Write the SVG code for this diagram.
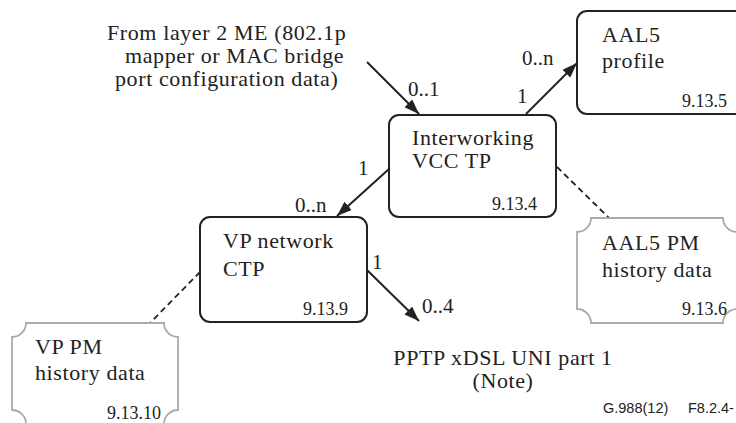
<svg xmlns="http://www.w3.org/2000/svg" width="736" height="423" viewBox="0 0 736 423">
<defs>
<style>
.box{fill:#fff;stroke:#222;stroke-width:2}
.pm{fill:#fff;stroke:#aaa;stroke-width:1.8}
.t{font-family:"Liberation Serif","Times New Roman",serif;font-size:22px;letter-spacing:0.6px;fill:#222}
.n{font-family:"Liberation Serif","Times New Roman",serif;font-size:18px;fill:#222;text-anchor:end}
.c{font-family:"Liberation Serif","Times New Roman",serif;font-size:21px;fill:#222}
.f{font-family:"Liberation Sans",Arial,sans-serif;font-size:14.5px;fill:#222}
.arr{stroke:#222;stroke-width:2;fill:none;marker-end:url(#ah)}
.dash{stroke:#222;stroke-width:1.8;fill:none;stroke-dasharray:6 4}
</style>
<marker id="ah" markerUnits="userSpaceOnUse" markerWidth="16" markerHeight="12" refX="15" refY="5.5" orient="auto">
<path d="M0,0 L15,5.5 L0,11 Z" fill="#222"/>
</marker>
</defs>

<g id="connectors">
<line class="arr" x1="367" y1="62" x2="419" y2="114"/>
<line class="arr" x1="526" y1="114" x2="577" y2="63"/>
<line class="arr" x1="389" y1="169" x2="337" y2="216"/>
<line class="arr" x1="367" y1="270" x2="419" y2="321"/>
<line class="dash" x1="557" y1="167" x2="609" y2="218"/>
<line class="dash" x1="200" y1="272" x2="150" y2="323"/>
<text class="c" x="408" y="96">0..1</text>
<text class="c" x="522" y="65">0..n</text>
<text class="c" x="517" y="103">1</text>
<text class="c" x="358" y="175">1</text>
<text class="c" x="295" y="212">0..n</text>
<text class="c" x="372" y="269">1</text>
<text class="c" x="422" y="313">0..4</text>
</g>

<g id="source">
<text class="t" x="107" y="40">From layer 2 ME (802.1p</text>
<text class="t" x="125" y="63">mapper or MAC bridge</text>
<text class="t" x="115" y="86">port configuration data)</text>
</g>

<g id="aal5-profile">
<rect class="box" x="577" y="11" width="175" height="103" rx="10"/>
<text class="t" x="602" y="42">AAL5</text>
<text class="t" x="602" y="68">profile</text>
<text class="n" x="727" y="107">9.13.5</text>
</g>

<g id="interworking-vcc-tp">
<rect class="box" x="389" y="115" width="167" height="102" rx="10"/>
<text class="t" x="412" y="145">Interworking</text>
<text class="t" x="412" y="168">VCC TP</text>
<text class="n" x="537" y="210">9.13.4</text>
</g>

<g id="aal5-pm">
<path class="pm" d="M591,218 H723 A14,14 0 0 0 737,232 V309 A14,14 0 0 0 723,323 H591 A14,14 0 0 0 577,309 V232 A14,14 0 0 0 591,218 Z"/>
<text class="t" x="602" y="250">AAL5 PM</text>
<text class="t" x="602" y="277">history data</text>
<text class="n" x="727" y="315">9.13.6</text>
</g>

<g id="vp-network-ctp">
<rect class="box" x="200" y="217" width="167" height="105" rx="10"/>
<text class="t" x="223" y="248">VP network</text>
<text class="t" x="223" y="276">CTP</text>
<text class="n" x="348" y="315">9.13.9</text>
</g>

<g id="vp-pm">
<path class="pm" d="M26,323 H164 A14,14 0 0 0 178,337 V410 A14,14 0 0 0 164,424 H26 A14,14 0 0 0 12,410 V337 A14,14 0 0 0 26,323 Z"/>
<text class="t" x="35" y="354">VP PM</text>
<text class="t" x="35" y="380">history data</text>
<text class="n" x="161" y="419">9.13.10</text>
</g>

<g id="pptp-xdsl-uni">
<text class="t" x="503" y="365" text-anchor="middle">PPTP xDSL UNI part 1</text>
<text class="t" x="503" y="388" text-anchor="middle">(Note)</text>
</g>

<text class="f" x="603" y="413">G.988(12)<tspan x="688">F8.2.4-</tspan></text>
</svg>
